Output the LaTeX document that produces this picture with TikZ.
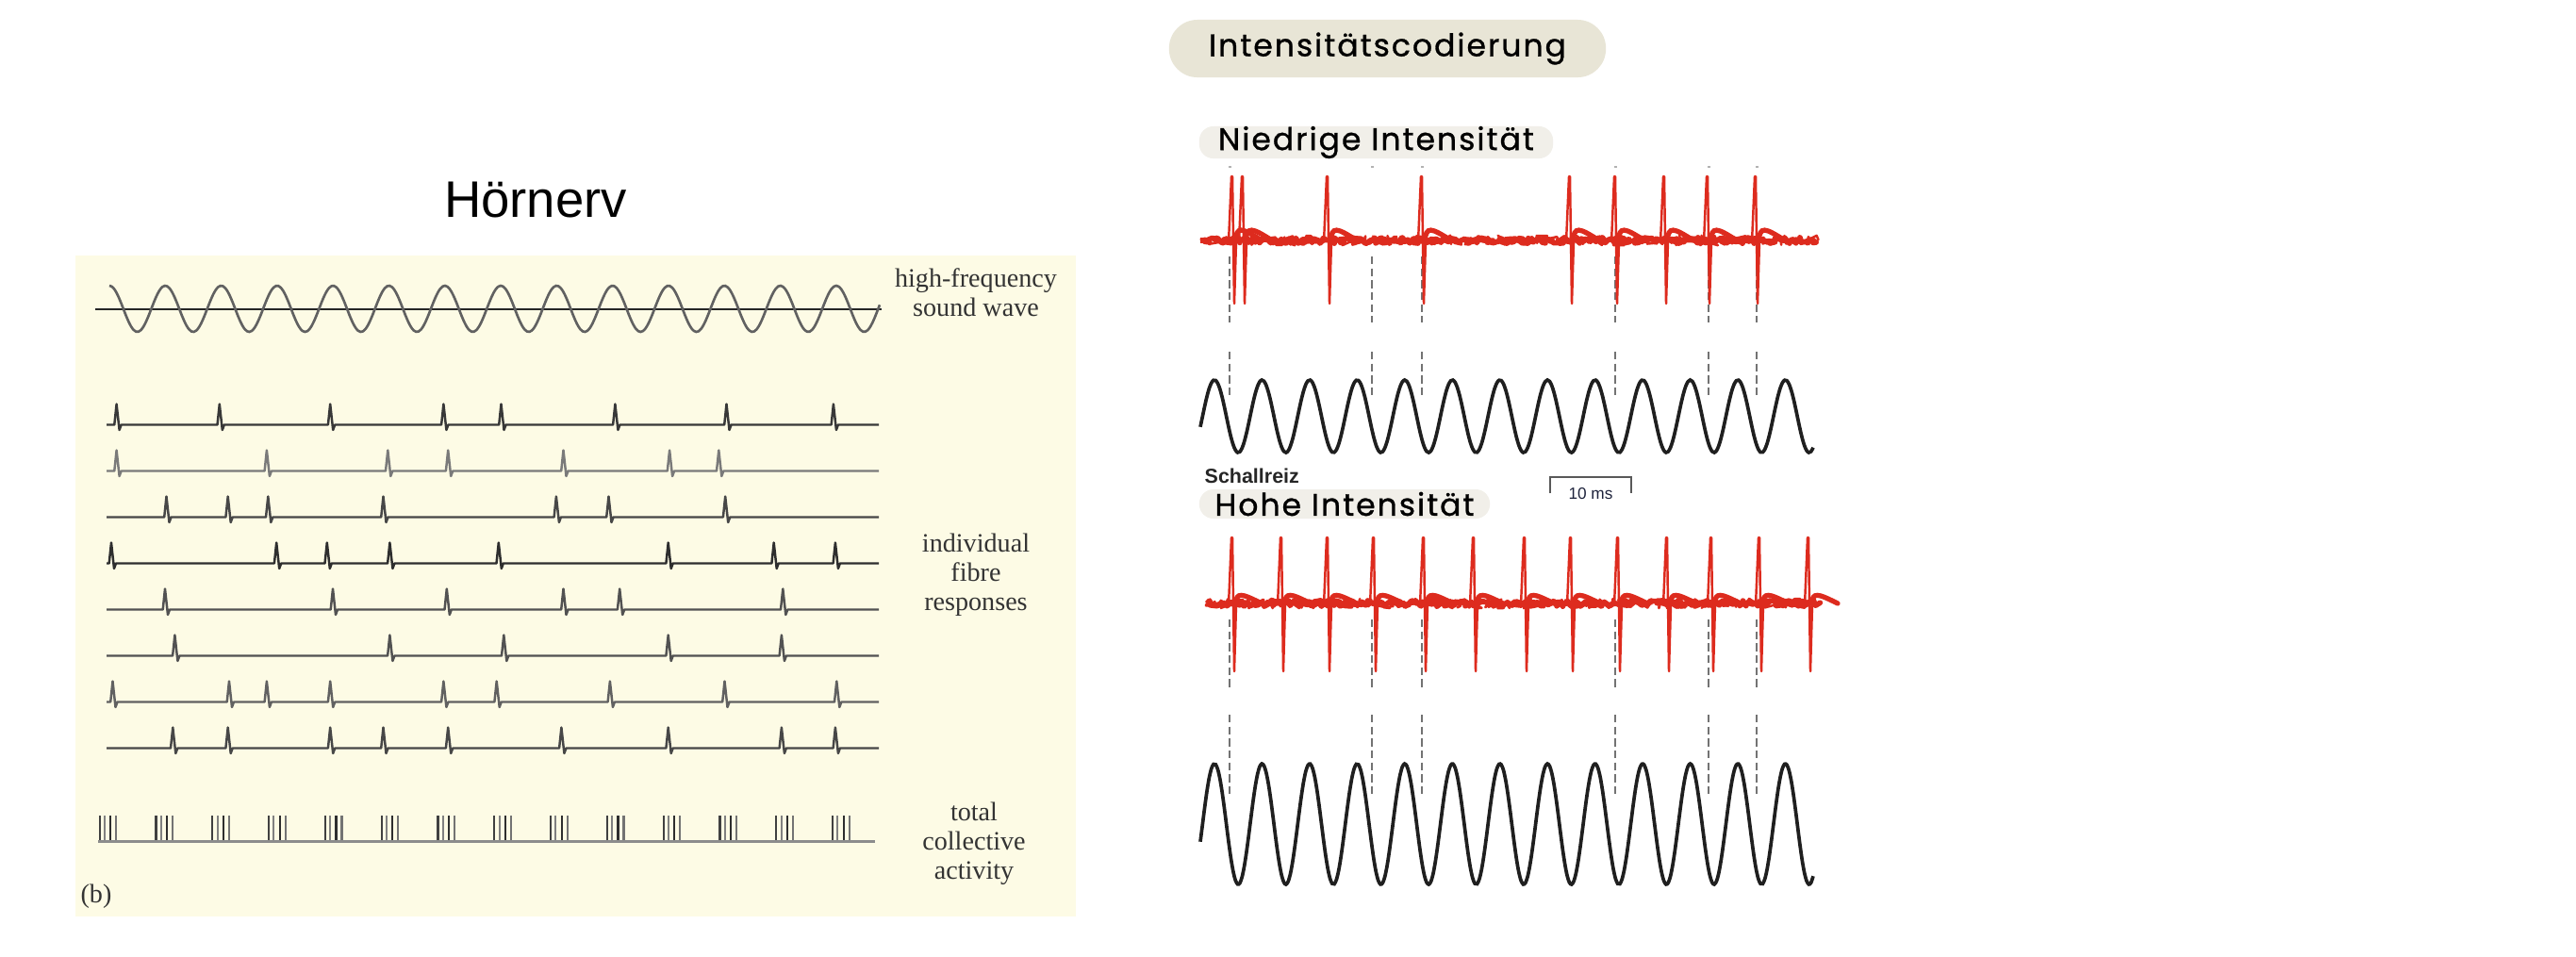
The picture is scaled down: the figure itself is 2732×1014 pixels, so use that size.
\documentclass[tikz,border=0pt]{standalone}
\usepackage{fontspec}
\usepackage{xcolor}
\usepackage{tikz}
\usetikzlibrary{decorations.pathmorphing}
\setmainfont{Liberation Serif}
\newfontfamily\handfont[LetterSpace=6, FakeBold=0.9]{Poppins}
\newfontfamily\arialfont{Liberation Sans}
\definecolor{paper}{RGB}{253,251,229}
\definecolor{pillbeige}{RGB}{232,229,214}
\definecolor{pilllight}{RGB}{241,239,233}
\definecolor{tracered}{RGB}{221,43,30}
\definecolor{scaleblue}{RGB}{30,35,60}

\begin{document}
\begin{tikzpicture}[
  x=0.01cm, y=-0.01cm,
  fibre/.style={line width=0.7pt, line join=round},
  wave/.style={draw=black!62, line width=0.75pt},
  axisline/.style={draw=black!85, line width=0.6pt},
  burstline/.style={line width=0.6pt},
  lab/.style={font=\fontsize{8}{8.8}\selectfont, text=black!80, align=center, inner sep=0pt},
  noisy/.style={draw=tracered, line width=1.6pt, line join=round, decorate,
    decoration={random steps, segment length=0.45pt, amplitude=0.9pt}},
  hump/.style={draw=tracered, line width=1.5pt, line cap=round},
  spike/.style={draw=tracered, line width=0.7pt, line join=round},
  guide/.style={draw=black!55, line width=0.55pt, dash pattern=on 2.4pt off 1.2pt},
  sine/.style={draw=black!88, line width=1.05pt},
  pill/.style={rounded corners=0.15cm, inner sep=0pt, font=\handfont\fontsize{9.4}{10}\selectfont},
  scalebar/.style={draw=black!65, line width=0.5pt}
]
  \fill[white] (0,0) rectangle (2732,1014);
  \useasboundingbox (0,0) rectangle (2732,1014);

  % Hoernerv panel
  \fill[paper] (80,271) rectangle (1141,972);
  \node[font=\arialfont\fontsize{15.5}{18}\selectfont] (hoernerv) at (568,212) {Hörnerv};

  \draw[axisline] (101,327.7) -- (935,327.7);
  \draw[wave] plot[domain=116:933, samples=320, smooth] (\x,{327.5-24.5*cos(360*((\x-116)/59.3))});

  \foreach \r/\shade/\sp [evaluate=\r as \b using {450.5+49*(\r-1)}] in {
      1/78/{123.6,232.8,350.2,470.4,531.5,652.4,770.5,883.9},
      2/52/{123.6,282.9,411.3,475.2,597.5,710.1,762.3},
      3/72/{176.5,241.7,284.3,406.5,589.9,645.5,769.2},
      4/82/{118,293.2,346.8,413.4,528.8,708.7,820.7,885.9},
      5/68/{175,353,473.8,597.5,657.2,830.3},
      6/68/{185.4,413.4,534.3,708.7,828.9},
      7/62/{119.5,243,282.9,350.2,470.4,526.7,646.9,768.5,887.3},
      8/72/{183.3,241.7,350.2,406.5,475.2,595.4,708.7,828.9,885.9}} {
    \draw[fibre, draw=black!\shade] (113,\b) foreach \s in \sp {
        -- (\s-2.3,\b) -- (\s,\b-22) -- (\s+3,\b+5.5) -- (\s+5,\b)} -- (932,\b);
  }

  \foreach \k in {0,...,13} {
    \foreach \o/\c in {0/75,5.3/50,11.6/82,17.6/55}
      \draw[burstline, draw=black!\c] (105.7+59.8*\k+\o,865) -- (105.7+59.8*\k+\o,892);
  }
  \draw[line width=0.85pt, draw=black!45] (104,892.7) -- (928,892.7);

  \node[lab] (soundlab) at (1035,310) {high-frequency\\sound wave};
  \node[lab] (fibrelab) at (1035,610) {individual\\fibre\\responses};
  \node[lab] (totallab) at (1033,895) {total\\collective\\activity};
  \node[lab] (panelb) at (102,951) {(b)};

  % Intensitaetscodierung panel
  \node[pill, fill=pillbeige, minimum width=4.63cm, minimum height=0.61cm, rounded corners=0.3cm] (codierung) at (1471.5,51.5) {Intensitätscodierung};
  \node[pill, fill=pilllight, minimum width=3.75cm, minimum height=0.30cm] (niedrig) at (1459.5,151) {Niedrige Intensität};
  \node[pill, fill=pilllight, minimum width=3.08cm, minimum height=0.31cm] (hoch) at (1426,534.5) {Hohe Intensität};

  \foreach \g in {1304,1455,1508,1713,1812,1863} {
    \draw[guide] (\g,272) -- (\g,342);
    \draw[guide] (\g,373) -- (\g,423);
    \draw[guide] (\g,657) -- (\g,730);
    \draw[guide] (\g,758) -- (\g,842);
    \fill[black!30] (\g-1.5,176) rectangle (\g+1.5,178);
  }

  \pgfmathsetseed{11}
  \draw[noisy] (1273,255) -- (1927,255);
  \draw[noisy, line width=0.7pt, decoration={random steps, segment length=0.6pt, amplitude=1.5pt}] (1273,255) -- (1927,255);
  \foreach \s in {1306,1317,1407,1507,1664,1712,1764,1810,1861} {
    \draw[spike] (\s-3,257) -- (\s,187) -- (\s+1,187) -- (\s+3,322) -- (\s+5,256);
    \draw[hump] (\s+4,255) .. controls (\s+6,240) and (\s+10,241) .. (\s+32,255);
  }

  \draw[noisy] (1280,640) -- (1929,640);
  \draw[noisy, line width=0.7pt, decoration={random steps, segment length=0.6pt, amplitude=1.5pt}] (1280,640) -- (1929,640);
  \foreach \s in {1306,1358,1407,1456,1509,1562,1616,1665,1715,1767,1814,1865,1917} {
    \draw[spike] (\s-3,642) -- (\s,570) -- (\s+1,570) -- (\s+3,712) -- (\s+5,641);
    \draw[hump] (\s+4,640) .. controls (\s+6,628) and (\s+10,629) .. (\s+32,640);
  }

  \draw[sine] plot[domain=1273:1923, samples=280, smooth] (\x,{441.5-38.5*cos(360*((\x-1288)/50.46))});
  \draw[sine] plot[domain=1273:1923, samples=280, smooth] (\x,{874-64*cos(360*((\x-1288)/50.46))});

  \node[font=\arialfont\bfseries\fontsize{6.1}{7}\selectfont, anchor=base west, inner sep=0pt, text=black!85] (reiz) at (1277,512) {Schallreiz};
  \draw[scalebar] (1644,523) -- (1644,506) -- (1730,506) -- (1730,523);
  \node[font=\arialfont\fontsize{4.9}{6}\selectfont, text=scaleblue, inner sep=0pt] (zehnms) at (1687,524) {10 ms};
\end{tikzpicture}
\end{document}
